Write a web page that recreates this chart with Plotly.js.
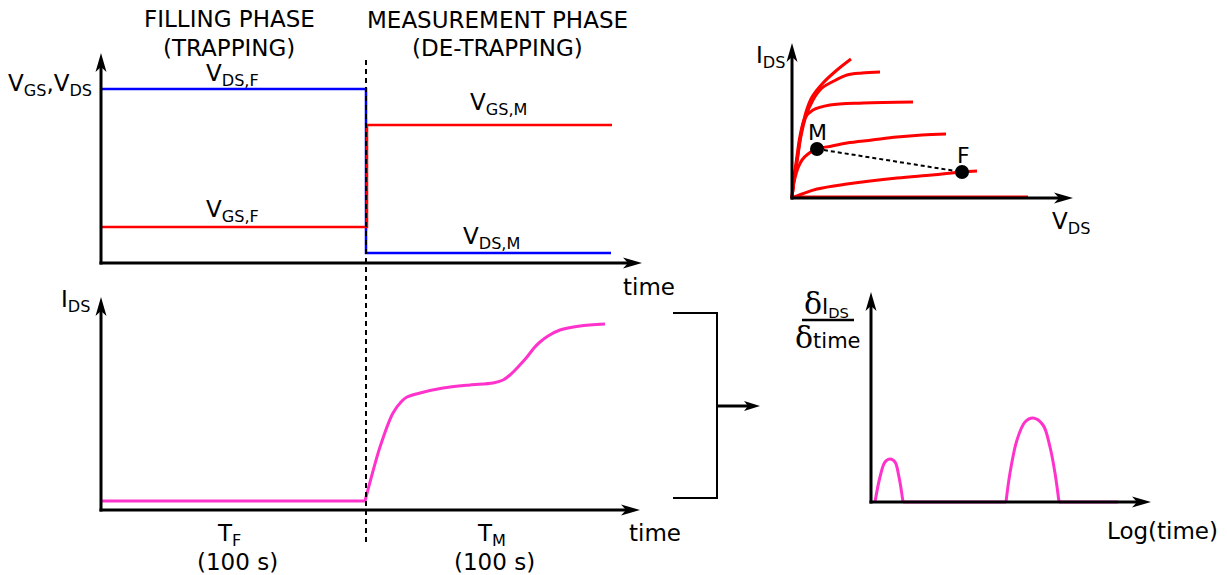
<!DOCTYPE html>
<html><head><meta charset="utf-8">
<script src="https://cdn.plot.ly/plotly-3.0.1.min.js"></script>
<style>html,body{margin:0;padding:0;background:#fff}#chart{width:1227px;height:575px}</style>
</head><body><div id="chart"></div>
<script>
// ---------- Data (arbitrary schematic units) ----------
// Panel A: applied voltages vs time
const vdsTime  = [0, 265, 265, 510];
const vdsLevel = [174, 174, 10, 10];
const vgsTime  = [0, 266, 266, 511];
const vgsLevel = [36, 36, 138, 138];
const switchTime = 265;

// Panel B: drain current transient
const idsFillTime  = [0, 264];
const idsFillLevel = [9, 9];
const idsMeasTime  = [264, 279, 292, 300, 306, 319, 342, 369, 392, 402, 409, 417, 426, 433, 439, 447, 459, 479, 504];
const idsMeasLevel = [9, 63, 97, 108, 113, 117, 122, 125, 127, 130, 135, 143, 153, 162, 168, 174, 180, 184, 186];

// Panel C: output characteristics I_DS(V_DS)
const iv1Vds = [0, 2, 5, 9, 14, 20, 31, 45, 59];
const iv1Ids = [0, 19, 38, 64, 86, 101, 115, 128, 139];
const iv2Vds = [0, 2, 5, 9, 14, 21, 30, 40, 55, 70, 88];
const iv2Ids = [0, 18, 36, 62, 82, 98, 110, 116, 123, 125, 126];
const iv3Vds = [0, 2, 5, 8, 13, 21, 38, 71, 121];
const iv3Ids = [0, 20, 42, 62, 80, 88, 93, 95, 96];
const iv4Vds = [0, 1, 3, 6, 10, 16, 25, 40, 55, 80, 105, 130, 154];
const iv4Ids = [0, 10, 20, 30, 38, 44, 49, 52, 55, 58, 61, 63, 64];
const iv5Vds = [0, 10, 25, 55, 105, 140, 170, 185];
const iv5Ids = [0, 4, 9, 14, 20, 23, 26, 27];
const iv6Vds = [0, 236];
const iv6Ids = [1, 1];
const biasLabels = ['M', 'F'];
const biasVds = [25, 170];
const biasIds = [49, 26];

// Panel D: derivative spectrum vs log(time)
const hump1Time  = [4, 9, 14, 19, 24, 28, 32];
const hump1Value = [0, 25, 40, 43, 40, 25, 0];
const hump2Time  = [135, 139, 146, 154, 162, 172, 179, 184, 188];
const hump2Value = [0, 29, 62, 80, 84, 77, 55, 29, 0];
const baseTimeA  = [32, 135];
const baseTimeB  = [188, 247];
const baseValue  = [0, 0];

// axis extents (arrow tips) per panel, in panel units
const axisLenX = [541, 539, 281, 280];
const axisLenY = [210, 213, 155, 210];

// ---------- Layout helpers ----------
const W = 1227, H = 575;
const FONT = 'DejaVu Sans';
const xd = (a, b) => [a / W, b / W];
const yd = (top, bottom) => [1 - bottom / H, 1 - top / H];
const px = p => p / W;
const py = p => 1 - p / H;

const RED = '#ff0000', BLUE = '#0000ff', PINK = '#ff33cc';

const traces = [
  {x: vdsTime, y: vdsLevel, xaxis: 'x', yaxis: 'y', mode: 'lines', line: {color: BLUE, width: 2.5}},
  {x: vgsTime, y: vgsLevel, xaxis: 'x', yaxis: 'y', mode: 'lines', line: {color: RED, width: 2.5}},

  {x: idsFillTime, y: idsFillLevel, xaxis: 'x2', yaxis: 'y2', mode: 'lines', line: {color: PINK, width: 3}},
  {x: idsMeasTime, y: idsMeasLevel, xaxis: 'x2', yaxis: 'y2', mode: 'lines', line: {color: PINK, width: 3, shape: 'spline', smoothing: 0.8}},

  {x: iv6Vds, y: iv6Ids, xaxis: 'x3', yaxis: 'y3', mode: 'lines', line: {color: RED, width: 3}},
  {x: iv5Vds, y: iv5Ids, xaxis: 'x3', yaxis: 'y3', mode: 'lines', line: {color: RED, width: 3, shape: 'spline'}},
  {x: iv4Vds, y: iv4Ids, xaxis: 'x3', yaxis: 'y3', mode: 'lines', line: {color: RED, width: 3, shape: 'spline'}},
  {x: iv3Vds, y: iv3Ids, xaxis: 'x3', yaxis: 'y3', mode: 'lines', line: {color: RED, width: 3, shape: 'spline'}},
  {x: iv2Vds, y: iv2Ids, xaxis: 'x3', yaxis: 'y3', mode: 'lines', line: {color: RED, width: 3, shape: 'spline'}},
  {x: iv1Vds, y: iv1Ids, xaxis: 'x3', yaxis: 'y3', mode: 'lines', line: {color: RED, width: 3, shape: 'spline'}},
  {x: biasVds, y: biasIds, xaxis: 'x3', yaxis: 'y3', mode: 'lines+markers',
   line: {color: '#000', width: 2, dash: '4px,3px'}, marker: {color: '#000', size: 14}},

  {x: baseTimeA, y: baseValue, xaxis: 'x4', yaxis: 'y4', mode: 'lines', line: {color: PINK, width: 3}},
  {x: baseTimeB, y: baseValue, xaxis: 'x4', yaxis: 'y4', mode: 'lines', line: {color: PINK, width: 3}},
  {x: hump1Time, y: hump1Value, xaxis: 'x4', yaxis: 'y4', mode: 'lines', line: {color: PINK, width: 3, shape: 'spline'}},
  {x: hump2Time, y: hump2Value, xaxis: 'x4', yaxis: 'y4', mode: 'lines', line: {color: PINK, width: 3, shape: 'spline'}}
];

const hidden = {visible: false, fixedrange: true};
const layout = {
  width: W, height: H,
  margin: {l: 0, r: 0, t: 0, b: 0},
  paper_bgcolor: '#fff', plot_bgcolor: 'rgba(0,0,0,0)',
  showlegend: false, hovermode: false,
  font: {family: FONT, size: 23, color: '#000'},
  xaxis:  Object.assign({domain: xd(91, 652),  range: [-10, 551], anchor: 'y'}, hidden),
  yaxis:  Object.assign({domain: yd(43, 273),  range: [-10, 220], anchor: 'x'}, hidden),
  xaxis2: Object.assign({domain: xd(91, 652),  range: [-10, 551], anchor: 'y2'}, hidden),
  yaxis2: Object.assign({domain: yd(287, 520), range: [-10, 223], anchor: 'x2'}, hidden),
  xaxis3: Object.assign({domain: xd(782, 1083), range: [-10, 291], anchor: 'y3'}, hidden),
  yaxis3: Object.assign({domain: yd(33, 208),  range: [-10, 165], anchor: 'x3'}, hidden),
  xaxis4: Object.assign({domain: xd(861, 1161), range: [-10, 290], anchor: 'y4'}, hidden),
  yaxis4: Object.assign({domain: yd(282, 512), range: [-10, 220], anchor: 'x4'}, hidden),
  shapes: [
    // phase boundary
    {type: 'line', xref: 'x', yref: 'paper', x0: switchTime, x1: switchTime, y0: py(542), y1: py(59),
     line: {color: '#000', width: 2, dash: '5px,4px'}},
    // bracket
    {type: 'line', xref: 'paper', yref: 'paper', x0: px(673), x1: px(717), y0: py(313), y1: py(313), line: {color: '#000', width: 2}},
    {type: 'line', xref: 'paper', yref: 'paper', x0: px(717), x1: px(717), y0: py(312), y1: py(499), line: {color: '#000', width: 2}},
    {type: 'line', xref: 'paper', yref: 'paper', x0: px(673), x1: px(717), y0: py(498), y1: py(498), line: {color: '#000', width: 2}},
    // bracket arrow
    {type: 'line', xref: 'paper', yref: 'paper', x0: px(717), x1: px(748), y0: py(406), y1: py(406), line: {color: '#000', width: 3}},
    {type: 'path', xref: 'paper', yref: 'paper', fillcolor: '#000', line: {width: 0},
     path: `M ${px(760)},${py(406)} L ${px(744)},${py(411)} L ${px(748)},${py(406)} L ${px(744)},${py(401)} Z`},
    // fraction bar
    {type: 'line', xref: 'paper', yref: 'paper', x0: px(802), x1: px(854), y0: py(320), y1: py(320), line: {color: '#000', width: 2.5}}
  ],
  annotations: []
};

// axis lines with stealth arrowheads (panel units are 1 px each)
const HEAD = 19, NOTCH = 14, HALF = 5.5;
['', '2', '3', '4'].forEach((s, i) => {
  const xr = 'x' + s, yr = 'y' + s, Lx = axisLenX[i], Ly = axisLenY[i];
  layout.shapes.push(
    {type: 'line', xref: xr, yref: yr, x0: -1.5, x1: Lx - NOTCH, y0: 0, y1: 0, line: {color: '#000', width: 3}},
    {type: 'path', xref: xr, yref: yr, fillcolor: '#000', line: {width: 0},
     path: `M ${Lx},0 L ${Lx - HEAD},${HALF} L ${Lx - NOTCH},0 L ${Lx - HEAD},${-HALF} Z`},
    {type: 'line', xref: xr, yref: yr, x0: 0, x1: 0, y0: -1.5, y1: Ly - NOTCH, line: {color: '#000', width: 3}},
    {type: 'path', xref: xr, yref: yr, fillcolor: '#000', line: {width: 0},
     path: `M 0,${Ly} L ${HALF},${Ly - HEAD} L 0,${Ly - NOTCH} L ${-HALF},${Ly - HEAD} Z`}
  );
});

function label(text, x, y, size) {
  return {xref: 'paper', yref: 'paper', x: px(x), y: py(y), text: text,
    showarrow: false, xanchor: 'center', yanchor: 'middle',
    font: {family: FONT, size: size || 23, color: '#000'}};
}
const D = '<span style="font-family:DejaVu Serif;font-size:30px">δ</span>';
layout.annotations.push(
  label('FILLING PHASE', 229, 19),
  label('(TRAPPING)', 229, 48),
  label('MEASUREMENT PHASE', 497, 20),
  label('(DE-TRAPPING)', 497, 48),
  label('V<sub>GS</sub>,V<sub>DS</sub>', 50, 85),
  label('V<sub>DS,F</sub>', 232, 75),
  label('V<sub>GS,F</sub>', 233, 211),
  label('V<sub>GS,M</sub>', 498, 104),
  label('V<sub>DS,M</sub>', 491, 238),
  label('time', 649, 287),
  label('I<sub>DS</sub>', 75, 301),
  label('T<sub>F</sub>', 229, 535),
  label('(100 s)', 237, 562),
  label('T<sub>M</sub>', 491, 535),
  label('(100 s)', 494, 562),
  label('time', 655, 533),
  label('I<sub>DS</sub>', 771, 57),
  label('V<sub>DS</sub>', 1071, 223),
  label(D + 'I<sub>DS</sub>', 826, 303, 21),
  label(D + 'time', 828, 337, 21),
  label('Log(time)', 1162, 531)
);
biasLabels.forEach((t, i) => {
  layout.annotations.push({xref: 'x3', yref: 'y3', x: biasVds[i], y: biasIds[i], text: t,
    showarrow: false, yshift: 17, xshift: i === 0 ? 0 : 1, font: {family: FONT, size: 22, color: '#000'}});
});

Plotly.newPlot('chart', traces, layout, {staticPlot: true, displayModeBar: false});
</script>
</body></html>
